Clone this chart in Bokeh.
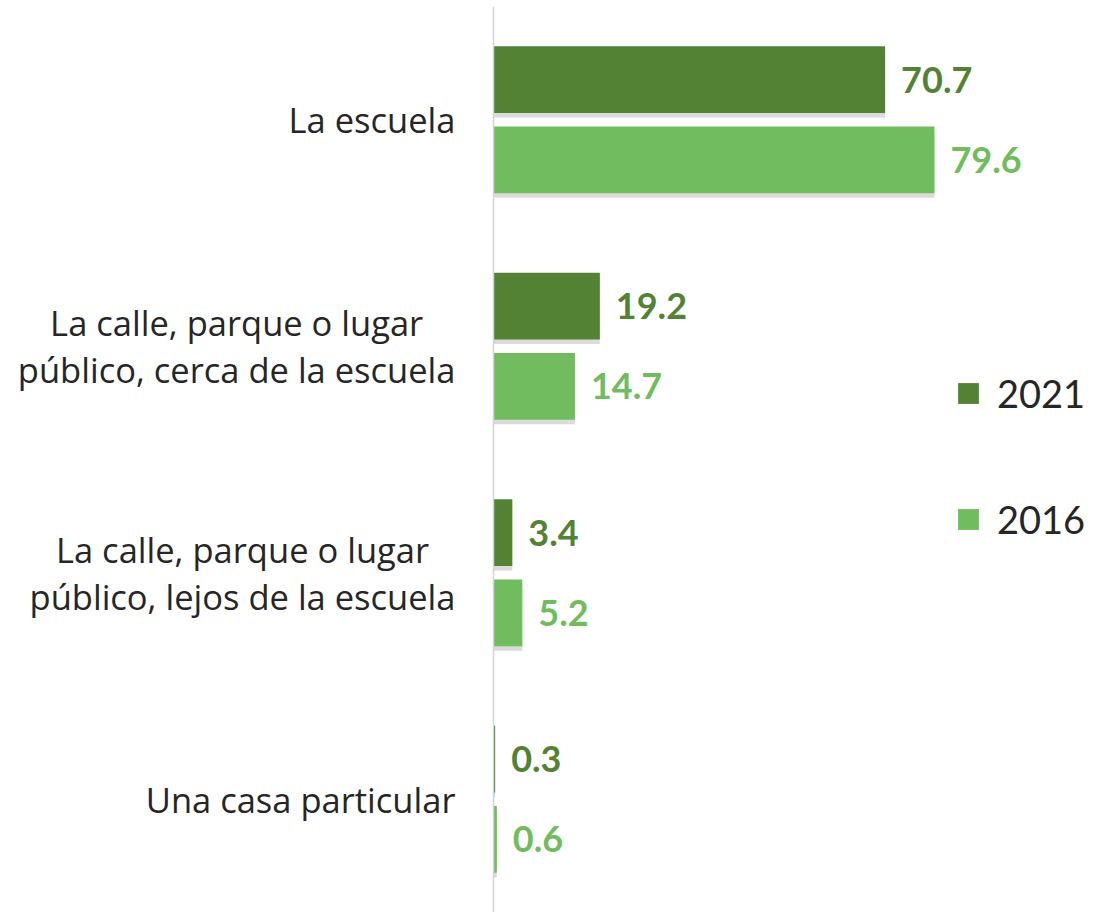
from bokeh.plotting import figure
from bokeh.models import ColumnDataSource, Span, Legend, LegendItem
from bokeh.core.properties import value
from bokeh.embed import file_html
from bokeh.resources import INLINE

categories = [
    "La escuela",
    "La calle, parque o lugar\npúblico, cerca de la escuela",
    "La calle, parque o lugar\npúblico, lejos de la escuela",
    "Una casa particular",
]
values_2021 = [70.7, 19.2, 3.4, 0.3]
values_2016 = [79.6, 14.7, 5.2, 0.6]
series_names = ["2021", "2016"]

DARK = "#548235"
LIGHT = "#70BC5E"
FONT = "Lato"
CAT_FONT = "Open Sans"

n = len(categories)
pos = [n - 1 - i for i in range(n)]
off = 0.177
h = 0.295
sh = 0.02

src = ColumnDataSource(dict(
    cat=categories,
    y=pos,
    zero=[0] * n,
    y21=[y + off for y in pos],
    y16=[y - off for y in pos],
    s21=[y + off - sh for y in pos],
    s16=[y - off - sh for y in pos],
    v21=values_2021,
    v16=values_2016,
    t21=[f"{v:.1f}" for v in values_2021],
    t16=[f"{v:.1f}" for v in values_2016],
))

p = figure(
    width=1094, height=912,
    y_range=(-0.5, n - 0.5),
    x_range=(-89.0, 108.5),
    output_backend="svg", toolbar_location=None,
    min_border_left=0, min_border_right=0, min_border_top=6, min_border_bottom=0,
)
p.outline_line_color = None
p.xgrid.visible = False
p.ygrid.visible = False
p.xaxis.visible = False
p.yaxis.visible = False

# soft shadows
p.hbar(y="s21", left=0, right="v21", height=h, source=src,
       fill_color="#000000", fill_alpha=0.14, line_color=None)
p.hbar(y="s16", left=0, right="v16", height=h, source=src,
       fill_color="#000000", fill_alpha=0.14, line_color=None)

r21 = p.hbar(y="y21", left=0, right="v21", height=h, source=src,
             fill_color=DARK, line_color=None)
r16 = p.hbar(y="y16", left=0, right="v16", height=h, source=src,
             fill_color=LIGHT, line_color=None)

p.add_layout(Span(location=0, dimension="height", line_color="#d4d4d4", line_width=1.5))

p.text(x="v21", y="y21", text="t21", source=src,
       x_offset=16, text_align="left", text_baseline="middle",
       text_font=value(FONT), text_font_style="bold", text_font_size="36px", text_color=DARK)
p.text(x="v16", y="y16", text="t16", source=src,
       x_offset=16, text_align="left", text_baseline="middle",
       text_font=value(FONT), text_font_style="bold", text_font_size="36px", text_color=LIGHT)

p.text(x="zero", y="y", text="cat", source=src, x_offset=-38,
       anchor="center_right", text_align="center", text_baseline="middle",
       text_font=value(CAT_FONT), text_font_size="34.5px", text_color="#262626",
       text_line_height=1.0)

legend = Legend(items=[LegendItem(label=series_names[0], renderers=[r21]),
                       LegendItem(label=series_names[1], renderers=[r16])],
                location=(955, 370), orientation="vertical",
                label_text_font=FONT, label_text_font_size="38px", label_text_color="#262626",
                glyph_width=26, glyph_height=26, spacing=80, label_standoff=16,
                background_fill_alpha=0, border_line_color=None, padding=0, margin=0)
p.add_layout(legend)

open("out.html", "w").write(file_html(p, INLINE))
